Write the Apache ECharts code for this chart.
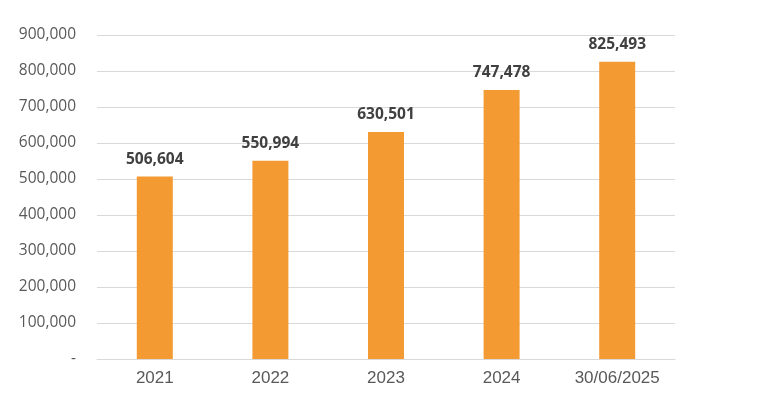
<!DOCTYPE html>
<html><head><meta charset="utf-8">
<script src="https://cdn.jsdelivr.net/npm/echarts@6/dist/echarts.min.js"></script>
<style>html,body{margin:0;padding:0;background:#fff}#c{width:766px;height:411px}</style>
</head><body><div id="c"></div>
<script>
const categories = ['2021', '2022', '2023', '2024', '30/06/2025'];
const values = [506604, 550994, 630501, 747478, 825493];
const yTicks = { min: 0, max: 900000, interval: 100000 };

const fmt = v => v === 0 ? '-' : v.toLocaleString('en-US');
const chart = echarts.init(document.getElementById('c'), null, { renderer: 'canvas' });
chart.setOption({
  animation: false,
  grid: { left: 97, right: 91, top: 35, bottom: 52, containLabel: false },
  xAxis: {
    type: 'category', data: categories,
    axisLine: { show: true, lineStyle: { color: '#d9d9d9', width: 1 } },
    axisTick: { show: false },
    axisLabel: { color: '#595959', fontFamily: 'Liberation Sans', fontSize: 17, margin: 11 }
  },
  yAxis: {
    type: 'value', min: yTicks.min, max: yTicks.max, interval: yTicks.interval,
    axisLine: { show: false }, axisTick: { show: false },
    splitLine: { lineStyle: { color: '#d9d9d9', width: 1 } },
    axisLabel: { color: '#595959', fontFamily: 'Open Sans', fontSize: 15.5, margin: 21, formatter: fmt }
  },
  series: [{
    type: 'bar', data: values, barWidth: 36,
    itemStyle: { color: '#F39A33' },
    label: {
      show: true, position: 'top', distance: 9,
      color: '#404040', fontFamily: 'Open Sans', fontWeight: 'bold', fontSize: 15.5,
      formatter: p => p.value.toLocaleString('en-US')
    }
  }]
});
</script></body></html>
